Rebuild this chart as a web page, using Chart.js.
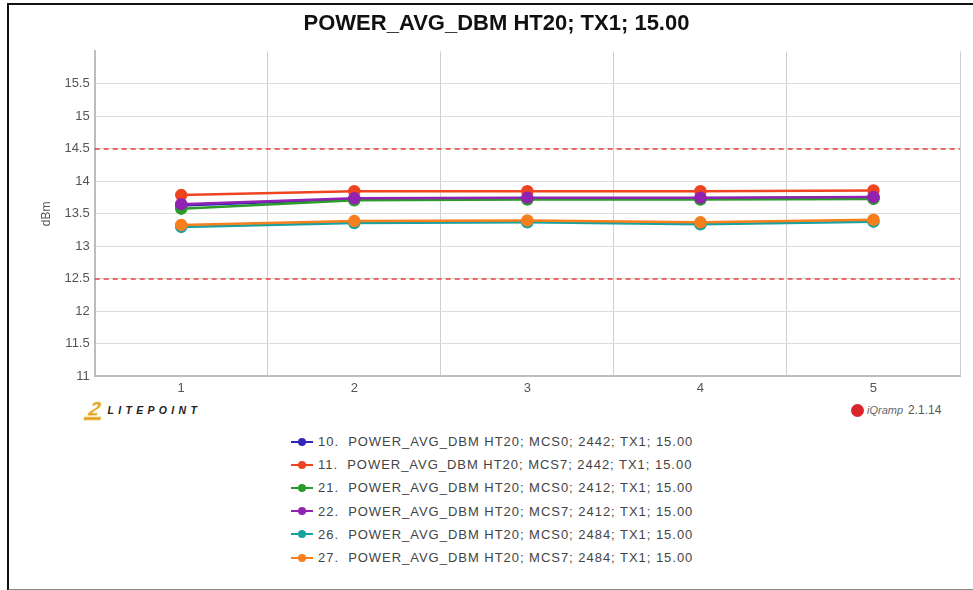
<!DOCTYPE html>
<html>
<head>
<meta charset="utf-8">
<script src="https://cdn.jsdelivr.net/npm/chart.js@4/dist/chart.umd.min.js"></script>
<style>
    html, body { margin: 0; padding: 0; background: #fff; }
    body { width: 973px; height: 590px; position: relative; overflow: hidden; font-family: "Liberation Sans", Arial, sans-serif; }
    .frame { position: absolute; left: 7px; top: 3px; width: 975px; height: 584px; border-top: 2px solid #111; border-left: 2px solid #111; border-bottom: 2px solid #888; }
    #chart-wrap { position: absolute; left: 0; top: 0; width: 973px; height: 400px; }
    .litepoint { position: absolute; left: 86px; top: 401px; height: 18px; display: flex; align-items: center; }
    .litepoint .icon { font-weight: bold; font-style: italic; color: #e3a21a; font-size: 19px; line-height: 16px; border-bottom: 3px solid #e3a21a; margin-right: 5px; padding: 0 3px; transform: skewX(-15deg); }
    .litepoint .name { font-weight: bold; font-style: italic; font-size: 10.5px; letter-spacing: 4.3px; color: #222; }
    .iqramp { position: absolute; left: 851px; top: 402px; height: 16px; display: flex; align-items: center; font-size: 12px; color: #555; }
    .iqramp .dot { width: 13px; height: 13px; border-radius: 50%; background: #d9262b; margin-right: 3px; }
    .iqramp .brand { font-style: italic; font-size: 11px; color: #666; margin-right: 5px; }
    #legend { position: absolute; left: 291px; top: 430px; }
    .legend-item { height: 23.2px; display: flex; align-items: center; font-size: 13px; letter-spacing: 0.97px; color: #444; white-space: pre; }
    .legend-mark { position: relative; width: 22px; height: 10px; margin-right: 5px; }
    .legend-mark .ln { position: absolute; left: 0; right: 0; top: 4px; height: 2px; }
    .legend-mark .pt { position: absolute; left: 7px; top: 1px; width: 8px; height: 8px; border-radius: 50%; }
</style>
</head>
<body>
<div class="frame"></div>
<div id="chart-wrap"><canvas id="powerChart"></canvas></div>
<div class="litepoint"><span class="icon">2</span><span class="name">LITEPOINT</span></div>
<div class="iqramp"><span class="dot"></span><span class="brand">iQramp</span><span>2.1.14</span></div>
<div id="legend"></div>
<script>
// Data
const chartTitle = 'POWER_AVG_DBM HT20; TX1; 15.00';
const categories = ['1', '2', '3', '4', '5'];
const seriesLabels = [
    '10.  POWER_AVG_DBM HT20; MCS0; 2442; TX1; 15.00',
    '11.  POWER_AVG_DBM HT20; MCS7; 2442; TX1; 15.00',
    '21.  POWER_AVG_DBM HT20; MCS0; 2412; TX1; 15.00',
    '22.  POWER_AVG_DBM HT20; MCS7; 2412; TX1; 15.00',
    '26.  POWER_AVG_DBM HT20; MCS0; 2484; TX1; 15.00',
    '27.  POWER_AVG_DBM HT20; MCS7; 2484; TX1; 15.00'
];
const s10 = [13.63, 13.73, 13.74, 13.74, 13.75];
const s11 = [13.79, 13.85, 13.85, 13.85, 13.86];
const s21 = [13.58, 13.71, 13.72, 13.72, 13.73];
const s22 = [13.65, 13.74, 13.75, 13.75, 13.76];
const s26 = [13.30, 13.36, 13.37, 13.34, 13.38];
const s27 = [13.33, 13.39, 13.40, 13.37, 13.41];
const seriesColors = ['#3326b8', '#ee4420', '#2a9c2a', '#9222b0', '#17a2a0', '#f77f1e'];
const limitLines = [14.5, 12.5];
const yTicks = [11, 11.5, 12, 12.5, 13, 13.5, 14, 14.5, 15, 15.5];

const seriesValues = [s10, s11, s21, s22, s26, s27];

// dashed red limit lines across the full plot area
const limitPlugin = {
    id: 'limits',
    beforeDatasetsDraw(chart) {
        const ctx = chart.ctx;
        const area = chart.chartArea;
        const y = chart.scales.y;
        ctx.save();
        ctx.strokeStyle = '#e5403a';
        ctx.lineWidth = 1.3;
        ctx.setLineDash([5, 4]);
        limitLines.forEach(v => {
            const py = Math.round(y.getPixelForValue(v));
            ctx.beginPath();
            ctx.moveTo(area.left, py);
            ctx.lineTo(area.right, py);
            ctx.stroke();
        });
        ctx.restore();
    }
};

const datasets = seriesValues.map((vals, i) => ({
    label: seriesLabels[i],
    data: vals,
    borderColor: seriesColors[i],
    backgroundColor: seriesColors[i],
    pointBackgroundColor: seriesColors[i],
    pointBorderColor: seriesColors[i],
    pointRadius: 5,
    borderWidth: 2.5,
    tension: 0,
    order: seriesValues.length - i
}));

const axisFont = { family: '"Liberation Sans", Arial', size: 13 };

const ctx = document.getElementById('powerChart').getContext('2d');
const powerChart = new Chart(ctx, {
    type: 'line',
    data: { labels: categories, datasets: datasets },
    plugins: [limitPlugin],
    options: {
        responsive: true,
        maintainAspectRatio: false,
        animation: false,
        layout: { padding: { left: 33, right: 13, top: 0, bottom: 0 } },
        plugins: {
            legend: { display: false },
            tooltip: { enabled: false },
            title: {
                display: true,
                text: chartTitle,
                color: '#111',
                font: { family: '"Liberation Sans", Arial', size: 22, weight: 'bold' },
                padding: { top: 11, bottom: 14 }
            }
        },
        scales: {
            x: {
                offset: true,
                grid: {
                    offset: true,
                    color: ctx => (ctx.index === 0 || ctx.index === categories.length) ? 'rgba(0,0,0,0)' : '#cfcfcf',
                    drawTicks: false
                },
                border: { color: '#bdbdbd', width: 2 },
                ticks: { color: '#555', font: axisFont, padding: 4 }
            },
            y: {
                min: 11,
                max: 16,
                afterBuildTicks: axis => { axis.ticks = yTicks.map(v => ({ value: v })); },
                grid: { color: '#dcdcdc', drawTicks: false },
                border: { color: '#bdbdbd', width: 2 },
                ticks: { color: '#555', font: axisFont, padding: 5, callback: v => String(v) },
                title: { display: true, text: 'dBm', color: '#555', font: { family: '"Liberation Sans", Arial', size: 12 }, padding: 6 }
            }
        }
    }
});

// HTML legend, one entry per line
const legendEl = document.getElementById('legend');
powerChart.data.datasets.forEach(ds => {
    const item = document.createElement('div');
    item.className = 'legend-item';
    item.innerHTML = '<span class="legend-mark"><span class="ln" style="background:' + ds.borderColor +
        '"></span><span class="pt" style="background:' + ds.borderColor + '"></span></span>';
    item.appendChild(document.createTextNode(ds.label));
    legendEl.appendChild(item);
});
</script>
</body>
</html>
